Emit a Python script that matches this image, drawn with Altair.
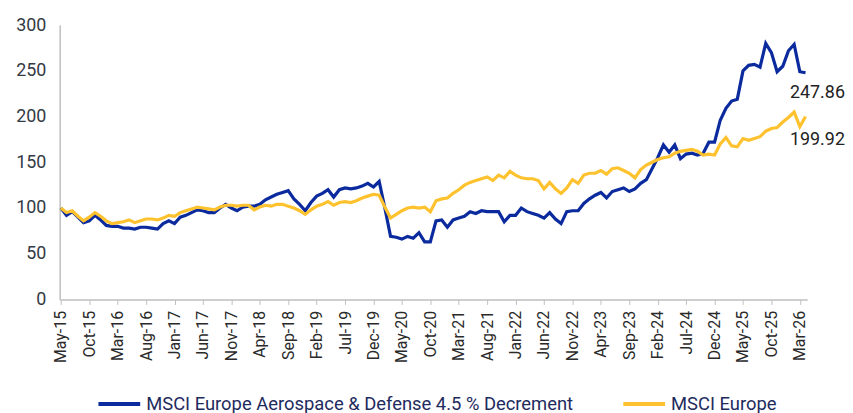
import altair as alt
import pandas as pd

blue_name = "MSCI Europe Aerospace & Defense 4.5 % Decrement"
yellow_name = "MSCI Europe"

tick_labels = ["May-15", "Oct-15", "Mar-16", "Aug-16", "Jan-17", "Jun-17", "Nov-17",
               "Apr-18", "Sep-18", "Feb-19", "Jul-19", "Dec-19", "May-20", "Oct-20",
               "Mar-21", "Aug-21", "Jan-22", "Jun-22", "Nov-22", "Apr-23", "Sep-23",
               "Feb-24", "Jul-24", "Dec-24", "May-25", "Oct-25", "Mar-26"]

blue = [100, 92, 96, 90, 84, 86, 92, 87, 81, 80,
        80, 78, 78, 77, 79, 79, 78, 77, 83, 86,
        83, 90, 92, 95, 98, 97, 95, 95, 100, 104,
        100, 97, 101, 102, 102, 104, 109, 112, 115, 117,
        119, 110, 104, 97, 106, 113, 116, 120, 112, 120,
        122, 121, 122, 124, 127, 123, 129, 100, 69, 68,
        66, 69, 67, 73, 63, 63, 86, 87, 79, 87,
        89, 91, 96, 94, 97, 96, 96, 96, 85, 92,
        92, 100, 96, 94, 92, 89, 95, 88, 83, 96,
        97, 97, 105, 110, 114, 117, 111, 118, 120, 122,
        118, 121, 127, 131, 143, 155, 169, 161, 169, 154,
        159, 160, 158, 160, 172, 172, 196, 209, 217, 219,
        250, 256, 257, 254, 280, 270, 249, 255, 272, 279,
        249, 247.86]

yellow = [100, 95, 97, 91, 86, 90, 95, 91, 86, 83,
          84, 85, 87, 84, 86, 88, 88, 87, 89, 92,
          91, 95, 97, 99, 101, 100, 99, 98, 101, 103,
          103, 102, 103, 103, 98, 101, 103, 102, 104, 104,
          102, 100, 97, 93, 98, 102, 104, 107, 103, 106,
          107, 106, 108, 111, 113, 115, 114, 101, 89, 93,
          97, 100, 101, 100, 101, 96, 108, 110, 111, 116,
          120, 125, 128, 130, 132, 134, 130, 136, 133, 140,
          136, 133, 132, 132, 130, 121, 128, 121, 116, 122,
          131, 127, 136, 138, 138, 141, 137, 143, 144, 141,
          138, 133, 142, 147, 150, 153, 155, 156, 160, 162,
          163, 164, 162, 158, 159, 158, 170, 177, 168, 167,
          176, 174, 176, 178, 184, 187, 188, 194, 199, 205,
          189, 199.92]

BLUE = "#0a2a9e"
YELLOW = "#fec22e"

rows = []
for i, v in enumerate(blue):
    rows.append({"m": i, "value": v, "series": blue_name})
for i, v in enumerate(yellow):
    rows.append({"m": i, "value": v, "series": yellow_name})
df = pd.DataFrame(rows)

last_blue = pd.DataFrame([{"m": len(blue) - 1, "value": blue[-1]}])
last_yellow = pd.DataFrame([{"m": len(yellow) - 1, "value": yellow[-1]}])

label_arr = "[" + ",".join("'" + l + "'" for l in tick_labels) + "]"

x_scale = alt.Scale(domain=[-0.2, 131.3], nice=False, zero=False)
y_scale = alt.Scale(domain=[0, 300], nice=False)

x_axis = alt.Axis(values=list(range(0, 131, 5)),
                  labelExpr=label_arr + "[round(datum.value/5)]",
                  labelAngle=-90, labelAlign="right", labelBaseline="middle",
                  labelFontSize=16, labelColor="#2a2a2a", labelFont="Roboto",
                  labelPadding=6, tickSize=5, tickColor="#bfbfbf",
                  domainColor="#bfbfbf", domainWidth=1.5, grid=False,
                  labelOverlap=False, labelBound=False, labelFlush=False)
y_axis = alt.Axis(values=[0, 50, 100, 150, 200, 250, 300], ticks=False,
                  labelFontSize=18, labelColor="#333a44", labelFont="Roboto",
                  labelPadding=14, domainColor="#bfbfbf", domainWidth=1.5,
                  grid=False)

lines = alt.Chart(df).mark_line(strokeWidth=3.2).encode(
    x=alt.X("m:Q", scale=x_scale, title=None, axis=x_axis),
    y=alt.Y("value:Q", scale=y_scale, title=None, axis=y_axis),
    color=alt.Color("series:N",
                    scale=alt.Scale(domain=[blue_name, yellow_name], range=[BLUE, YELLOW]),
                    legend=alt.Legend(title=None, orient="none", direction="horizontal",
                                      legendX=37, legendY=358,
                                      symbolType="stroke", symbolStrokeWidth=4,
                                      symbolSize=1764, labelFontSize=18.5,
                                      labelFont="Roboto", labelColor="#1e2b5e",
                                      labelOffset=4, columnPadding=42, padding=0,
                                      labelLimit=600)),
    detail="series:N",
)

txt_blue = alt.Chart(last_blue).mark_text(
    dx=12, dy=20, fontSize=18, font="Roboto", color="#222222", align="center",
    baseline="middle").encode(
    x=alt.X("m:Q", scale=x_scale, title=None, axis=x_axis),
    y=alt.Y("value:Q", scale=y_scale, title=None, axis=y_axis),
    text=alt.Text("value:Q", format=".2f"))

txt_yellow = alt.Chart(last_yellow).mark_text(
    dx=12, dy=24, fontSize=18, font="Roboto", color="#222222", align="center",
    baseline="middle").encode(
    x=alt.X("m:Q", scale=x_scale, title=None, axis=x_axis),
    y=alt.Y("value:Q", scale=y_scale, title=None, axis=y_axis),
    text=alt.Text("value:Q", format=".2f"))

chart = alt.layer(lines, txt_blue, txt_yellow).properties(
    width=752, height=276,
    padding={"left": 52, "top": 16, "right": 38, "bottom": 113},
    autosize=alt.AutoSizeParams(type="none"),
    background="white",
).configure_view(stroke=None)

chart.save("out.html", embed_options={"renderer": "svg", "actions": False})
